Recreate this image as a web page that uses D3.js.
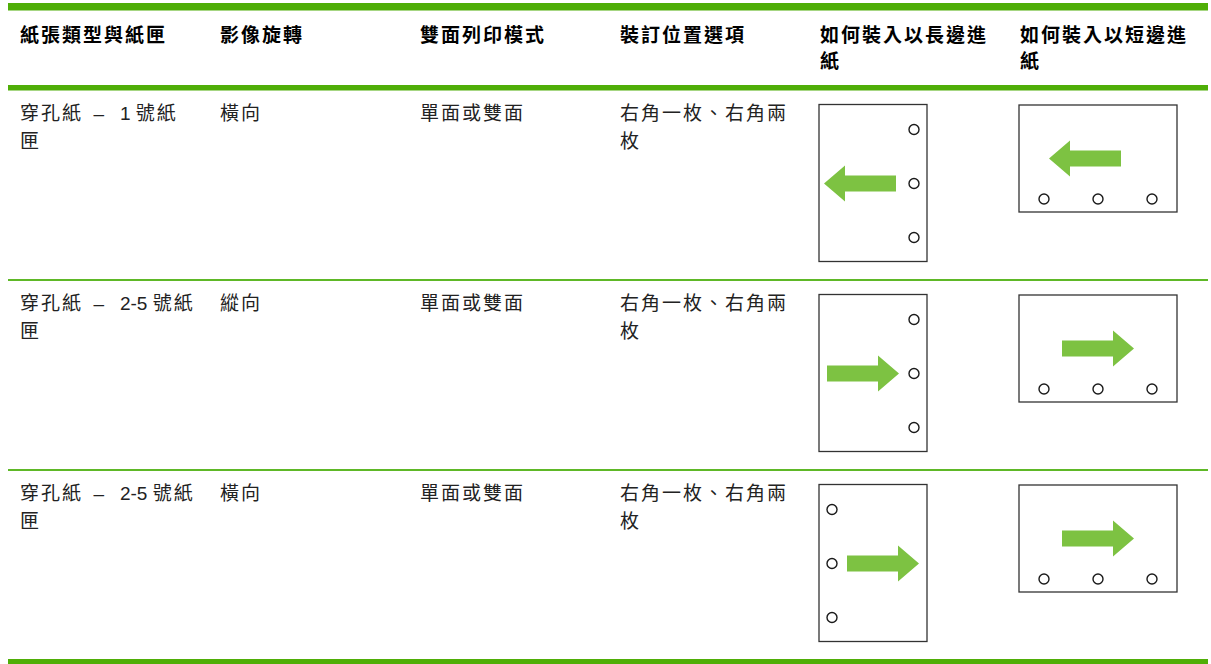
<!DOCTYPE html>
<html>
<head>
<meta charset="utf-8">
<script src="https://cdn.jsdelivr.net/npm/d3@7"></script>
<style>
  html, body { margin: 0; padding: 0; background: #fff; }
  svg { display: block; }
  text { font-family: "Liberation Sans", "Noto Sans CJK TC", sans-serif; }
</style>
</head>
<body>
<svg id="chart" width="1211" height="664"></svg>
<script>
// ---------- data ----------
const headers = [
  ["紙張類型與紙匣"],
  ["影像旋轉"],
  ["雙面列印模式"],
  ["裝訂位置選項"],
  ["如何裝入以長邊進", "紙"],
  ["如何裝入以短邊進", "紙"]
];
const paperType = [
  ["穿孔紙  –   1 號紙", "匣"],
  ["穿孔紙  –   2-5 號紙", "匣"],
  ["穿孔紙  –   2-5 號紙", "匣"]
];
const rotation = [["橫向"], ["縱向"], ["橫向"]];
const duplexMode = [["單面或雙面"], ["單面或雙面"], ["單面或雙面"]];
const stapleOption = [
  ["右角一枚、右角兩", "枚"],
  ["右角一枚、右角兩", "枚"],
  ["右角一枚、右角兩", "枚"]
];
// long-edge feed diagrams: hole side, arrow direction
const longEdgeHoles = ["right", "right", "left"];
const longEdgeArrow = ["left", "right", "right"];
// short-edge feed diagrams
const shortEdgeHoles = ["bottom", "bottom", "bottom"];
const shortEdgeArrow = ["left", "right", "right"];

// ---------- layout ----------
const svg = d3.select("#chart");
const green = "#4fae07";
const thinGreen = "#5eb827";
const arrowGreen = "#7dc242";

const col = d3.scaleBand().domain(d3.range(6)).range([8, 1208]);
const row = d3.scaleBand().domain(d3.range(3)).range([90, 660]);

// top bar, header rule, row rules, bottom bar
svg.append("rect").attr("x", 8).attr("y", 3).attr("width", 1200).attr("height", 7.5).attr("fill", green);
svg.append("rect").attr("x", 8).attr("y", 85).attr("width", 1200).attr("height", 5.5).attr("fill", green);
[1, 2].forEach(i => {
  svg.append("rect").attr("x", 8).attr("y", row(i) - 1).attr("width", 1200).attr("height", 2).attr("fill", thinGreen);
});
svg.append("rect").attr("x", 8).attr("y", 659).attr("width", 1200).attr("height", 5).attr("fill", green);

const cjk = /[\u3000-\u9fff\uff00-\uffef]+|[^\u3000-\u9fff\uff00-\uffef]+/g;
function addLines(g, lines, x, y0, lh, weight, color) {
  const t = g.append("text")
    .attr("x", x).attr("y", y0)
    .attr("font-size", 19)
    .attr("font-weight", weight)
    .attr("fill", color)
    .attr("xml:space", "preserve")
    .style("white-space", "pre");
  lines.forEach((l, i) => {
    const runs = l.match(cjk);
    runs.forEach((r, j) => {
      const ts = t.append("tspan").text(r)
        .attr("letter-spacing", /[\u3000-\u9fff\uff00-\uffef]/.test(r) ? 2 : 0);
      if (j === 0) ts.attr("x", x).attr("y", y0 + i * lh);
    });
  });
}

// headers
headers.forEach((h, i) => addLines(svg, h, col(i) + 12, 42, 26, "bold", "#000"));

// body text
const textCols = [paperType, rotation, duplexMode, stapleOption];
textCols.forEach((arr, ci) => {
  arr.forEach((lines, ri) => addLines(svg, lines, col(ci) + 12, row(ri) + 30, 28, "normal", "#222"));
});

// arrows
function arrowPath(cx, cy, dir) {
  const L = 72, hl = 21, hh = 18, sh = 8;
  const s = dir === "right" ? 1 : -1;
  const x0 = cx - s * L / 2, xb = cx + s * (L / 2 - hl), xt = cx + s * L / 2;
  const p = d3.path();
  p.moveTo(x0, cy - sh); p.lineTo(xb, cy - sh); p.lineTo(xb, cy - hh);
  p.lineTo(xt, cy); p.lineTo(xb, cy + hh); p.lineTo(xb, cy + sh); p.lineTo(x0, cy + sh);
  p.closePath();
  return p.toString();
}

function drawHoles(g, pts) {
  g.selectAll("circle.hole").data(pts).enter().append("circle")
    .attr("class", "hole")
    .attr("cx", d => d[0]).attr("cy", d => d[1]).attr("r", 5)
    .attr("fill", "#fff").attr("stroke", "#1a1a1a").attr("stroke-width", 1.4);
}

// long-edge (portrait) diagrams
longEdgeHoles.forEach((side, ri) => {
  const x = col(4) + 11, y = row(ri) + 14.5, w = 108, h = 157;
  const g = svg.append("g");
  g.append("rect").attr("x", x).attr("y", y).attr("width", w).attr("height", h)
    .attr("fill", "#fff").attr("stroke", "#333").attr("stroke-width", 1.3);
  const hx = side === "right" ? x + w - 13 : x + 13;
  const hy = d3.scaleLinear().domain([0, 2]).range([y + 25, y + 133]);
  drawHoles(g, [0, 1, 2].map(k => [hx, hy(k)]));
  const dir = longEdgeArrow[ri];
  let cx;
  if (side === "right" && dir === "left") cx = x + 5 + 36;
  else if (side === "right" && dir === "right") cx = x + 80 - 36;
  else cx = x + 100 - 36;
  g.append("path").attr("d", arrowPath(cx, hy(1), dir)).attr("fill", arrowGreen);
});

// short-edge (landscape) diagrams
shortEdgeHoles.forEach((side, ri) => {
  const x = col(5) + 11, y = row(ri) + 15, w = 158, h = 107;
  const g = svg.append("g");
  g.append("rect").attr("x", x).attr("y", y).attr("width", w).attr("height", h)
    .attr("fill", "#fff").attr("stroke", "#333").attr("stroke-width", 1.3);
  const hxs = d3.scaleLinear().domain([0, 2]).range([x + 25, x + 133]);
  drawHoles(g, [0, 1, 2].map(k => [hxs(k), y + h - 13]));
  const dir = shortEdgeArrow[ri];
  const cx = dir === "left" ? x + 30 + 36 : x + 115 - 36;
  g.append("path").attr("d", arrowPath(cx, y + 53.5, dir)).attr("fill", arrowGreen);
});
</script>
</body>
</html>
